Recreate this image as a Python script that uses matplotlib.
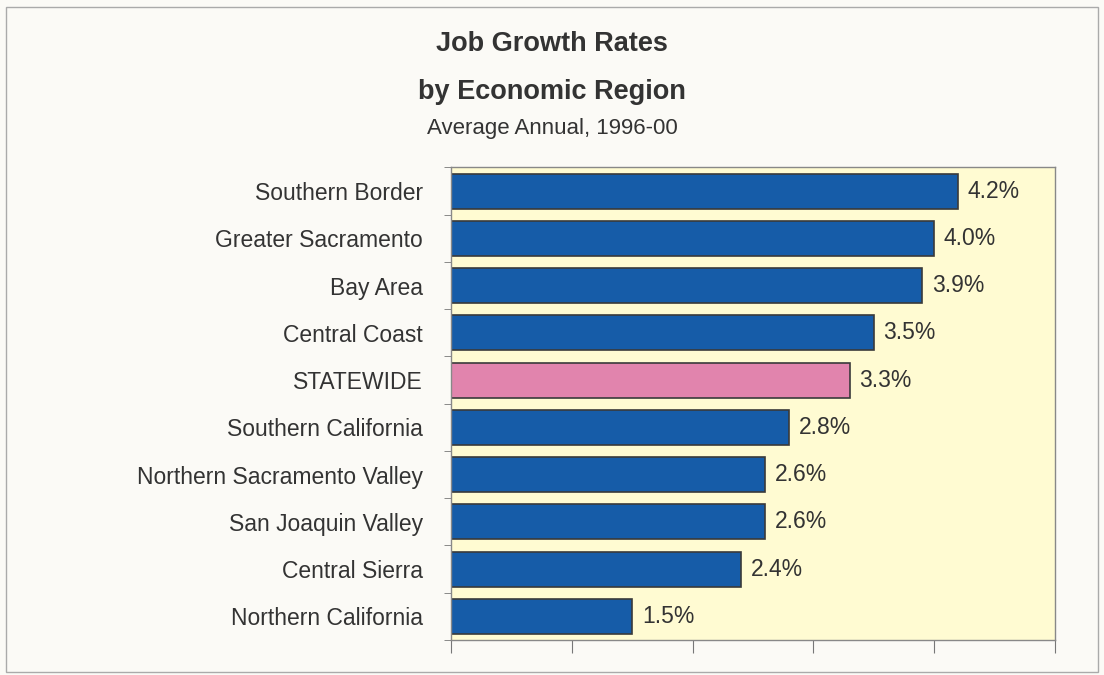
import matplotlib.pyplot as plt
from matplotlib.patches import Rectangle
import numpy as np

regions = ['Southern Border', 'Greater Sacramento', 'Bay Area', 'Central Coast',
           'STATEWIDE', 'Southern California', 'Northern Sacramento Valley',
           'San Joaquin Valley', 'Central Sierra', 'Northern California']
growth = [4.2, 4.0, 3.9, 3.5, 3.3, 2.8, 2.6, 2.6, 2.4, 1.5]
value_labels = ['4.2%', '4.0%', '3.9%', '3.5%', '3.3%', '2.8%', '2.6%', '2.6%', '2.4%', '1.5%']

blue = '#165ca8'
pink = '#e184ad'
colors = [pink if r == 'STATEWIDE' else blue for r in regions]

plt.rcParams['font.family'] = ['Liberation Sans', 'DejaVu Sans']

fig = plt.figure(figsize=(11.04, 6.75), dpi=100, facecolor='#fbfaf6')
ax = fig.add_axes([0.4085, 0.052, 0.547, 0.7])
ax.set_facecolor('#fffbd2')

y = np.arange(len(regions))
ax.barh(y, growth, height=0.74, color=colors, edgecolor='#3a3a3a', linewidth=1.2)
for yi, v, lab in zip(y, growth, value_labels):
    ax.text(v + 0.08, yi, lab, va='center', ha='left', fontsize=16.5, color='#333333')

ax.set_xlim(0, 5)
ax.set_ylim(len(regions) - 0.5, -0.5)
ax.set_xticks(np.arange(0, 6, 1))
ax.set_xticklabels([])
ax.tick_params(axis='x', direction='out', length=9, color='#777777')
ax.set_yticks(y)
ax.set_yticklabels(regions, fontsize=16.5, color='#333333')
ax.tick_params(axis='y', length=0, pad=20)
ax.set_yticks(np.arange(-0.5, len(regions), 1), minor=True)
ax.tick_params(axis='y', which='minor', length=5, direction='out', color='#777777')
for s in ax.spines.values():
    s.set_color('#888888')
    s.set_linewidth(1)

fig.text(0.5, 0.935, 'Job Growth Rates', ha='center', va='center',
         fontsize=19.5, fontweight='bold', color='#333333')
fig.text(0.5, 0.864, 'by Economic Region', ha='center', va='center',
         fontsize=19.5, fontweight='bold', color='#333333')
fig.text(0.5, 0.81, 'Average Annual, 1996-00', ha='center', va='center',
         fontsize=16, color='#333333')

fig.patches.append(Rectangle((0.005, 0.005), 0.99, 0.985, transform=fig.transFigure,
                             fill=False, edgecolor='#aaaaaa', linewidth=1))

fig.savefig('out.png', dpi=100, facecolor=fig.get_facecolor())
